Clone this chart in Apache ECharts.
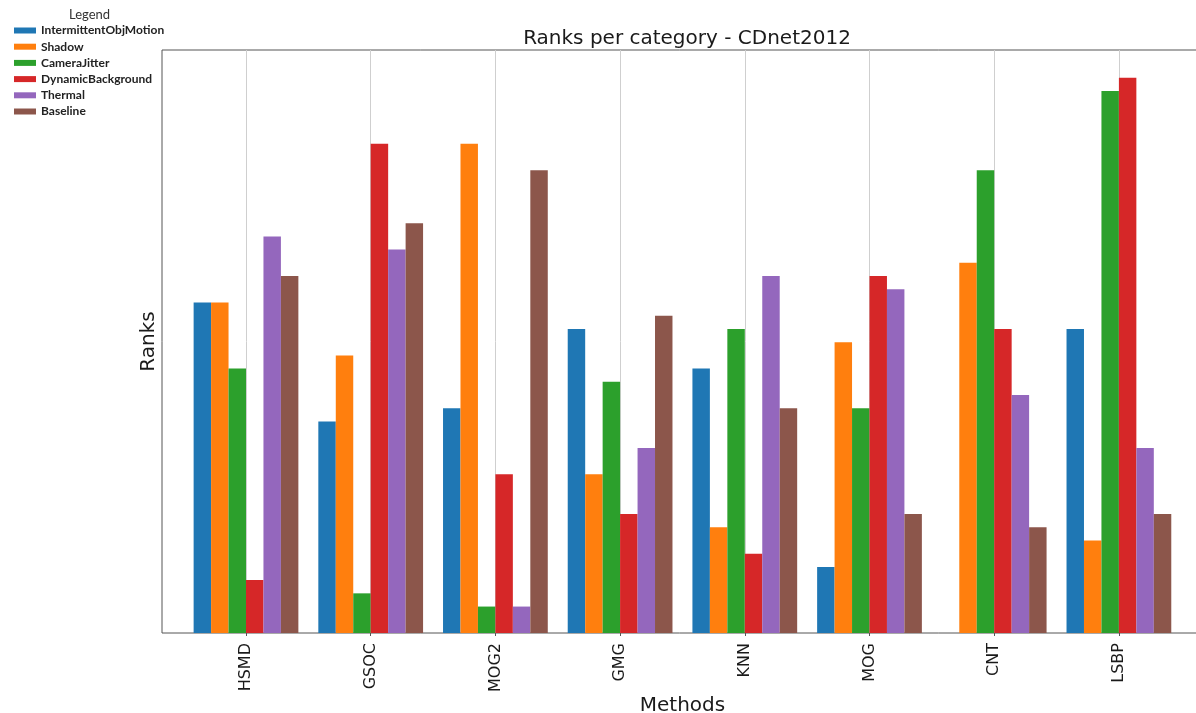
<!DOCTYPE html>
<html>
<head>
<meta charset="utf-8">
<script src="https://cdn.jsdelivr.net/npm/echarts@6/dist/echarts.min.js"></script>
<style>
  html, body { margin: 0; padding: 0; background: #fff; }
  #chart { width: 1196px; height: 713px; }
</style>
</head>
<body>
<div id="chart"></div>
<script>
// methods on the x axis
const methods = ['HSMD', 'GSOC', 'MOG2', 'GMG', 'KNN', 'MOG', 'CNT', 'LSBP']

// ranks per category, one array per CDnet2012 category
const intermittentObjMotion = [25, 16, 17, 23, 20, 5, 0, 23]
const shadow = [25, 21, 37, 12, 8, 22, 28, 7]
const cameraJitter = [20, 3, 2, 19, 23, 17, 35, 41]
const dynamicBackground = [4, 37, 12, 9, 6, 27, 23, 42]
const thermal = [30, 29, 2, 14, 27, 26, 18, 14]
const baseline = [27, 31, 35, 24, 17, 9, 8, 9]

const seriesNames = ['IntermittentObjMotion', 'Shadow', 'CameraJitter', 'DynamicBackground', 'Thermal', 'Baseline']
const seriesData = [intermittentObjMotion, shadow, cameraJitter, dynamicBackground, thermal, baseline]
const colors = ['#1f77b4', '#ff7f0e', '#2ca02c', '#d62728', '#9467bd', '#8c564b']

const yMax = 44.1

// category spacing in px, bars are 0.14 of it
const step = 124.7
const barW = step * 0.14

const chart = echarts.init(document.getElementById('chart'))

chart.setOption({
  animation: false,
  color: colors,
  title: [
    {
      text: 'Ranks per category - CDnet2012',
      left: 682,
      textAlign: 'center',
      top: 24,
      textStyle: { fontFamily: 'DejaVu Sans', fontSize: 20, fontWeight: 'normal', color: '#1a1a1a' }
    },
    {
      text: 'Legend',
      left: 64,
      top: 3,
      textStyle: { fontFamily: 'Lato', fontSize: 13, fontWeight: 'normal', color: '#333' }
    }
  ],
  legend: {
    orient: 'vertical',
    left: 9,
    top: 19.5,
    itemWidth: 22,
    itemHeight: 6,
    itemGap: 4.2,
    icon: 'rect',
    textStyle: { fontFamily: 'Lato', fontSize: 12, fontWeight: 'bold', color: '#222', lineHeight: 12 },
    data: seriesNames
  },
  grid: [
    // frame (matplotlib axes box, right edge falls off the canvas)
    { left: 162, top: 50, width: 1041, height: 583, show: true, borderColor: '#555', borderWidth: 1, backgroundColor: 'transparent', outerBoundsMode: 'none', containLabel: false },
    // data area between first and last category
    { left: 246, top: 50, width: step * 7, height: 583, outerBoundsMode: 'none', containLabel: false }
  ],
  xAxis: [
    {
      gridIndex: 0,
      type: 'value',
      min: 0,
      max: 1,
      name: 'Methods',
      nameLocation: 'middle',
      nameGap: 63,
      nameTextStyle: { fontFamily: 'DejaVu Sans', fontSize: 20, color: '#1a1a1a' },
      axisLine: { show: false },
      axisTick: { show: false },
      axisLabel: { show: false },
      splitLine: { show: false }
    },
    {
      gridIndex: 1,
      type: 'category',
      data: methods,
      boundaryGap: false,
      axisLine: { show: false },
      axisTick: { show: true, length: 3, lineStyle: { color: '#555' } },
      axisLabel: { rotate: 90, margin: 10, fontFamily: 'DejaVu Sans', fontSize: 16, color: '#1a1a1a' },
      splitLine: { show: true, lineStyle: { color: '#cfcfcf', width: 1 } }
    }
  ],
  yAxis: [
    {
      gridIndex: 0,
      type: 'value',
      min: 0,
      max: 1,
      name: 'Ranks',
      nameLocation: 'middle',
      nameGap: 3,
      nameTextStyle: { fontFamily: 'DejaVu Sans', fontSize: 20, color: '#1a1a1a' },
      axisLine: { show: false },
      axisTick: { show: false },
      axisLabel: { show: false },
      splitLine: { show: false }
    },
    {
      gridIndex: 1,
      type: 'value',
      min: 0,
      max: yMax,
      axisLine: { show: false },
      axisTick: { show: false },
      axisLabel: { show: false },
      splitLine: { show: false }
    }
  ],
  series: seriesNames.map((name, i) => ({
    name: name,
    type: 'bar',
    xAxisIndex: 1,
    yAxisIndex: 1,
    clip: false,
    barWidth: barW,
    barGap: '0%',
    itemStyle: { color: colors[i] },
    data: seriesData[i]
  }))
})
</script>
</body>
</html>
